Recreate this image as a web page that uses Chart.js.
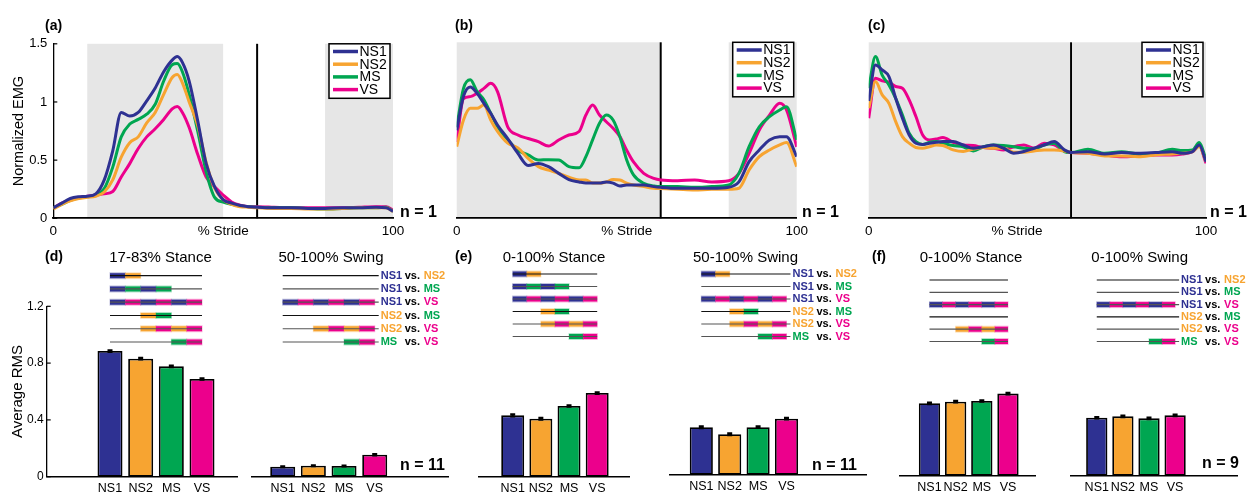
<!DOCTYPE html>
<html>
<head>
<meta charset="utf-8">
<script src="https://cdn.jsdelivr.net/npm/chart.js@4.4.1/dist/chart.umd.min.js"></script>
<style>
  body { margin: 0; background: #fff; }
  #fig { position: relative; width: 1249px; height: 493px; overflow: hidden; background: #fff;
         font-family: "Liberation Sans", Arial, Helvetica, sans-serif; color: #000; }
  #fig canvas { position: absolute; }
  .txt { position: absolute; white-space: nowrap; line-height: 1; }
</style>
</head>
<body>
<div id="fig"></div>
<script>
// ---- data ----
const series = ['NS1', 'NS2', 'MS', 'VS'];
const colors = ['#2e3192', '#f7a431', '#00a651', '#ec008c'];

// (a) stride %, normalized EMG
const aStride = [0, 2.5, 5, 7.5, 10, 12.5, 15, 17.5, 20, 22.5, 25, 27.5, 30, 32.5, 35, 36.5, 38, 40, 42.5, 45, 47.5, 50, 52.5, 55, 57.5, 60, 65, 70, 75, 80, 85, 90, 95, 98, 100];
const aNS1 = [0.09, 0.13, 0.17, 0.185, 0.19, 0.21, 0.33, 0.58, 0.91, 0.88, 0.91, 1.01, 1.12, 1.26, 1.36, 1.39, 1.34, 1.18, 0.84, 0.47, 0.27, 0.16, 0.13, 0.11, 0.10, 0.095, 0.09, 0.09, 0.085, 0.085, 0.09, 0.09, 0.095, 0.09, 0.06];
const aNS2 = [0.08, 0.12, 0.15, 0.17, 0.18, 0.19, 0.226, 0.33, 0.525, 0.65, 0.70, 0.82, 0.91, 1.065, 1.21, 1.236, 1.165, 1.0, 0.80, 0.48, 0.26, 0.16, 0.12, 0.10, 0.095, 0.09, 0.085, 0.085, 0.08, 0.08, 0.085, 0.09, 0.09, 0.09, 0.06];
const aMS = [0.09, 0.12, 0.155, 0.175, 0.185, 0.20, 0.255, 0.44, 0.70, 0.81, 0.85, 0.895, 0.98, 1.18, 1.32, 1.33, 1.26, 1.065, 0.75, 0.40, 0.18, 0.14, 0.12, 0.105, 0.10, 0.095, 0.09, 0.09, 0.085, 0.08, 0.085, 0.09, 0.09, 0.095, 0.06];
const aVS = [0.09, 0.13, 0.16, 0.18, 0.19, 0.20, 0.21, 0.23, 0.355, 0.47, 0.60, 0.70, 0.77, 0.85, 0.94, 0.96, 0.91, 0.78, 0.55, 0.355, 0.27, 0.20, 0.14, 0.113, 0.10, 0.10, 0.095, 0.09, 0.09, 0.09, 0.09, 0.095, 0.10, 0.10, 0.07];

// (b)
const bStride = [0, 2, 4, 6, 8, 10, 12, 15, 18, 21, 24, 27, 30, 33, 36, 38, 40, 42, 44, 46, 48, 50, 52, 55, 58, 60, 65, 70, 75, 80, 83, 86, 89, 92, 95, 97, 100];
const bNS1 = [0.75, 1.04, 1.12, 1.065, 0.98, 0.895, 0.795, 0.68, 0.553, 0.45, 0.468, 0.44, 0.383, 0.33, 0.31, 0.30, 0.30, 0.30, 0.31, 0.30, 0.275, 0.284, 0.284, 0.284, 0.27, 0.264, 0.256, 0.256, 0.256, 0.264, 0.31, 0.483, 0.582, 0.668, 0.696, 0.696, 0.526];
const bNS2 = [0.61, 0.838, 0.937, 0.937, 0.965, 0.838, 0.74, 0.64, 0.60, 0.51, 0.44, 0.41, 0.383, 0.35, 0.326, 0.326, 0.30, 0.30, 0.31, 0.33, 0.326, 0.30, 0.284, 0.27, 0.256, 0.253, 0.247, 0.241, 0.247, 0.247, 0.256, 0.412, 0.526, 0.582, 0.625, 0.645, 0.44];
const bMS = [0.776, 1.107, 1.18, 1.08, 1.01, 0.895, 0.78, 0.67, 0.58, 0.54, 0.497, 0.50, 0.497, 0.44, 0.43, 0.525, 0.67, 0.81, 0.88, 0.838, 0.696, 0.497, 0.37, 0.298, 0.275, 0.27, 0.27, 0.265, 0.27, 0.284, 0.383, 0.61, 0.78, 0.866, 0.923, 0.95, 0.668];
const bVS = [0.65, 1.02, 1.037, 1.065, 1.107, 1.15, 1.08, 0.78, 0.71, 0.68, 0.653, 0.616, 0.667, 0.71, 0.74, 0.88, 0.965, 0.88, 0.823, 0.767, 0.696, 0.58, 0.48, 0.383, 0.34, 0.327, 0.32, 0.327, 0.31, 0.32, 0.383, 0.554, 0.753, 0.88, 0.98, 0.923, 0.61];

// (c)
const cStride = [0, 2, 4, 6, 8, 10, 12, 14, 16, 18, 20, 22, 25, 28, 31, 34, 37, 40, 43, 46, 49, 52, 55, 58, 60, 65, 70, 75, 80, 85, 90, 93, 96, 98, 100];
const cNS1 = [1.0, 1.307, 1.265, 1.208, 1.023, 0.853, 0.71, 0.64, 0.63, 0.64, 0.648, 0.654, 0.654, 0.625, 0.597, 0.61, 0.625, 0.597, 0.555, 0.569, 0.597, 0.625, 0.654, 0.583, 0.56, 0.568, 0.548, 0.56, 0.554, 0.56, 0.568, 0.554, 0.568, 0.625, 0.483];
const cNS2 = [0.938, 1.165, 1.052, 0.98, 0.824, 0.696, 0.64, 0.603, 0.597, 0.61, 0.625, 0.62, 0.583, 0.569, 0.59, 0.603, 0.597, 0.597, 0.563, 0.563, 0.574, 0.583, 0.583, 0.574, 0.56, 0.554, 0.531, 0.531, 0.525, 0.54, 0.548, 0.554, 0.568, 0.611, 0.483];
const cMS = [1.108, 1.378, 1.22, 1.137, 1.023, 0.88, 0.725, 0.654, 0.63, 0.648, 0.654, 0.64, 0.62, 0.61, 0.574, 0.61, 0.625, 0.62, 0.61, 0.597, 0.59, 0.625, 0.64, 0.569, 0.56, 0.588, 0.554, 0.568, 0.548, 0.554, 0.588, 0.577, 0.582, 0.645, 0.50];
const cVS = [0.853, 1.194, 1.171, 1.16, 1.123, 1.108, 1.009, 0.867, 0.71, 0.668, 0.676, 0.688, 0.648, 0.625, 0.62, 0.603, 0.597, 0.583, 0.61, 0.625, 0.597, 0.64, 0.625, 0.574, 0.56, 0.554, 0.54, 0.525, 0.531, 0.54, 0.54, 0.548, 0.568, 0.616, 0.469];

// grey phase bands and stance/swing split (% stride)
const aGrey = [[10, 50], [80, 100]];
const bGrey = [[0, 60], [80, 100]];
const cGrey = [[0, 60], [60.5, 100]];
const phaseSplit = 60;
const aStrideTicks = [0, 50, 100];
const bStrideTicks = [0, 50, 100];
const cStrideTicks = [0, 44, 100];

// average RMS bars
const dStanceRms = [0.885, 0.831, 0.777, 0.688];
const dStanceErr = [0.006, 0.006, 0.006, 0.006];
const dSwingRms = [0.07, 0.077, 0.075, 0.155];
const dSwingErr = [0.004, 0.004, 0.004, 0.005];
const eStanceRms = [0.432, 0.408, 0.498, 0.589];
const eStanceErr = [0.008, 0.007, 0.006, 0.006];
const eSwingRms = [0.335, 0.285, 0.335, 0.395];
const eSwingErr = [0.007, 0.007, 0.006, 0.006];
const fStanceRms = [0.51, 0.521, 0.526, 0.578];
const fStanceErr = [0.006, 0.006, 0.006, 0.006];
const fSwingRms = [0.408, 0.418, 0.404, 0.425];
const fSwingErr = [0.006, 0.006, 0.006, 0.006];

// pairwise comparisons: which sixths of the span are significant [from, to)
const sigPairs = [[0, 1], [0, 2], [0, 3], [1, 2], [1, 3], [2, 3]];
const dStanceSig = [[0, 2], [0, 4], [0, 6], [2, 4], [2, 6], [4, 6]];
const dSwingSig = [null, null, [0, 6], null, [2, 6], [4, 6]];
const eStanceSig = [[0, 2], [0, 4], [0, 6], [2, 4], [2, 6], [4, 6]];
const eSwingSig = [[0, 2], null, [0, 6], [2, 4], [2, 6], [4, 6]];
const fStanceSig = [null, null, [0, 6], null, [2, 6], [4, 6]];
const fSwingSig = [null, null, [0, 6], null, null, [4, 6]];

// ---- drawing ----
const FONT = '"Liberation Sans", Arial, Helvetica, sans-serif';
Chart.defaults.font.family = FONT;
Chart.defaults.color = '#000';
const fig = document.getElementById('fig');

function makeCanvas(left, top, w, h) {
    const cv = document.createElement('canvas');
    cv.width = w; cv.height = h;
    cv.style.left = left + 'px'; cv.style.top = top + 'px';
    cv.style.width = w + 'px'; cv.style.height = h + 'px';
    fig.appendChild(cv);
    return cv;
}

function addText(str, x, y, size, bold, anchor) {
    const d = document.createElement('div');
    d.className = 'txt';
    d.textContent = str;
    d.style.left = x + 'px'; d.style.top = y + 'px';
    d.style.fontSize = size + 'px';
    d.style.fontWeight = bold ? 'bold' : 'normal';
    d.style.transform = anchor === 'c' ? 'translate(-50%,-50%)' : 'translate(0,-50%)';
    fig.appendChild(d);
}

const phasePlugin = {
    id: 'phases',
    beforeDraw(chart, args, opts) {
        const a = chart.chartArea, x = chart.scales.x, ctx = chart.ctx;
        ctx.save();
        ctx.fillStyle = '#e6e6e6';
        opts.bands.forEach(b => {
            const l = x.getPixelForValue(b[0]), r = x.getPixelForValue(b[1]);
            ctx.fillRect(l, a.top, r - l, a.bottom - a.top);
        });
        const s = x.getPixelForValue(opts.split);
        ctx.strokeStyle = '#000'; ctx.lineWidth = 2;
        ctx.beginPath(); ctx.moveTo(s, a.top); ctx.lineTo(s, a.bottom); ctx.stroke();
        ctx.restore();
    }
};

const boxLegend = {
    id: 'boxLegend',
    afterDraw(chart) {
        const a = chart.chartArea, ctx = chart.ctx;
        const w = 61, h = 54.5, left = a.right - 3 - w, top = a.top;
        ctx.save();
        ctx.fillStyle = '#fff'; ctx.fillRect(left, top, w, h);
        ctx.strokeStyle = '#000'; ctx.lineWidth = 1.5; ctx.strokeRect(left, top, w, h);
        ctx.font = '14px ' + FONT; ctx.textBaseline = 'middle';
        chart.data.datasets.forEach((ds, i) => {
            const yy = top + 7.7 + i * 12.7;
            ctx.strokeStyle = ds.borderColor; ctx.lineWidth = 3.5;
            ctx.beginPath(); ctx.moveTo(left + 4, yy); ctx.lineTo(left + 29, yy); ctx.stroke();
            ctx.fillStyle = '#000'; ctx.fillText(ds.label, left + 30.5, yy + 0.5);
        });
        ctx.restore();
    }
};

// MATLAB style inward ticks on the y axis
const inTicks = {
    id: 'inTicks',
    afterDraw(chart) {
        const y = chart.scales.y;
        if (!y.options.display) return;
        const ctx = chart.ctx, x0 = chart.chartArea.left;
        ctx.save(); ctx.strokeStyle = '#000'; ctx.lineWidth = 1.2;
        y.ticks.forEach(t => {
            const p = y.getPixelForValue(t.value);
            ctx.beginPath(); ctx.moveTo(x0, p); ctx.lineTo(x0 + 4, p); ctx.stroke();
        });
        ctx.restore();
    }
};

const errBars = {
    id: 'errBars',
    afterDatasetsDraw(chart, args, opts) {
        const meta = chart.getDatasetMeta(0), y = chart.scales.y, ctx = chart.ctx;
        const vals = chart.data.datasets[0].data;
        ctx.save(); ctx.strokeStyle = '#000'; ctx.lineWidth = 2;
        meta.data.forEach((bar, i) => {
            const v = vals[i].y, e = opts.err[i];
            const top = y.getPixelForValue(v + e), bot = y.getPixelForValue(v - e);
            ctx.beginPath();
            ctx.moveTo(bar.x, top - 1); ctx.lineTo(bar.x, bot + 1);
            ctx.moveTo(bar.x - 2.5, top); ctx.lineTo(bar.x + 2.5, top);
            ctx.moveTo(bar.x - 2.5, bot); ctx.lineTo(bar.x + 2.5, bot);
            ctx.stroke();
        });
        ctx.restore();
    }
};

const sigRows = {
    id: 'sigRows',
    afterDraw(chart, args, opts) {
        const x = chart.scales.x, ctx = chart.ctx;
        const x0 = x.getPixelForValue(1), x1 = x.getPixelForValue(4);
        ctx.save();
        opts.rows.forEach((row, r) => {
            const yy = opts.top + r * opts.gap;
            const pair = sigPairs[r];
            if (row) {
                for (let k = row[0]; k < row[1]; k++) {
                    const a = x.getPixelForValue(1 + k * 0.5), b = x.getPixelForValue(1.5 + k * 0.5);
                    ctx.fillStyle = colors[pair[(k - row[0]) % 2]];
                    ctx.globalAlpha = 0.3; ctx.fillRect(a - 0.5, yy - 3.5, b - a + 1, 7);
                    ctx.globalAlpha = 1; ctx.fillRect(a, yy - 2.5, b - a, 5);
                }
            }
            ctx.strokeStyle = r % 3 === 0 ? '#111' : '#555';
            ctx.lineWidth = 1.2;
            ctx.beginPath(); ctx.moveTo(x0, yy); ctx.lineTo(x1 + (opts.labels ? 4 : 0), yy); ctx.stroke();
            if (opts.labels) {
                const lx = x1 + 6;
                ctx.font = 'bold 11px ' + FONT; ctx.textBaseline = 'middle';
                ctx.fillStyle = colors[pair[0]]; ctx.fillText(series[pair[0]], lx, yy);
                ctx.fillStyle = '#000'; ctx.fillText('vs.', lx + 24, yy);
                ctx.fillStyle = colors[pair[1]]; ctx.fillText(series[pair[1]], lx + 43, yy);
            }
        });
        ctx.restore();
    }
};

function linePanel(cfg) {
    const cv = makeCanvas(cfg.left, 30, cfg.width, 220);
    new Chart(cv, {
        type: 'line',
        data: {
            datasets: series.map((name, k) => ({
                label: name,
                data: cfg.xs.map((x, i) => ({ x: x, y: cfg.vals[k][i] })),
                borderColor: colors[k],
                borderWidth: 3,
                pointRadius: 0,
                cubicInterpolationMode: 'monotone',
                fill: false
            }))
        },
        options: {
            responsive: false, animation: false, devicePixelRatio: 1,
            layout: { padding: { left: cfg.padL, right: cfg.padR, top: 12.3, bottom: 0 } },
            plugins: {
                legend: { display: false }, tooltip: { enabled: false },
                phases: { bands: cfg.bands, split: phaseSplit }
            },
            scales: {
                x: {
                    type: 'linear', min: 0, max: 100,
                    grid: { display: false, drawTicks: false },
                    border: { display: true, color: '#000', width: 1.8 },
                    afterBuildTicks: s => { s.ticks = cfg.xTicks.map(v => ({ value: v })); },
                    afterFit: s => { s.height = 31.7; },
                    ticks: {
                        padding: 5, autoSkip: false, maxRotation: 0, font: { size: 13.5 },
                        callback: v => (v === 0 || v === 100) ? String(v) : '% Stride'
                    }
                },
                y: {
                    min: 0, max: 1.5, display: cfg.showY,
                    grid: { display: false, drawTicks: false },
                    border: { display: true, color: '#000', width: 1.3 },
                    afterFit: s => { s.width = cfg.showY ? 53.3 : 0; },
                    ticks: { stepSize: 0.5, padding: 6, font: { size: 13 },
                             callback: v => String(+v.toFixed(2)) },
                    title: { display: true, text: 'Normalized EMG', font: { size: 14.5 }, padding: { top: 10, bottom: 0 } }
                }
            }
        },
        plugins: [phasePlugin, boxLegend, inTicks]
    });
}

function barPanel(cfg) {
    const top = 262;
    const h = cfg.base - top + 16.3;
    const cv = makeCanvas(cfg.left, top, cfg.width, h);
    new Chart(cv, {
        type: 'bar',
        data: {
            datasets: [{
                data: cfg.rms.map((v, i) => ({ x: i + 1, y: v })),
                backgroundColor: colors,
                borderColor: '#000',
                borderWidth: 1.8,
                borderSkipped: false,
                barPercentage: 0.815,
                categoryPercentage: 1
            }]
        },
        options: {
            responsive: false, animation: false, devicePixelRatio: 1,
            layout: { padding: { left: cfg.padL, right: cfg.padR, top: cfg.base - 170.4 - top, bottom: 0 } },
            plugins: {
                legend: { display: false }, tooltip: { enabled: false },
                errBars: { err: cfg.err },
                sigRows: { rows: cfg.sig, top: cfg.rowTop, gap: cfg.rowGap, labels: cfg.labels }
            },
            scales: {
                x: {
                    type: 'linear', min: cfg.xMin, max: cfg.xMax, offset: false,
                    grid: { display: false, drawTicks: false },
                    border: { display: true, color: '#000', width: 1.6 },
                    afterBuildTicks: s => { s.ticks = series.map((c, i) => ({ value: i + 1 })); },
                    afterFit: s => { s.height = 16.3; },
                    ticks: { padding: 4, autoSkip: false, maxRotation: 0, font: { size: 12.5 },
                             callback: v => series[v - 1] }
                },
                y: {
                    min: 0, max: 1.2, display: cfg.showY,
                    grid: { display: false, drawTicks: false },
                    border: { display: true, color: '#000', width: 1.3 },
                    afterFit: s => { s.width = cfg.showY ? 46.7 : 0; },
                    ticks: { stepSize: 0.4, padding: 3, font: { size: 12 },
                             callback: v => v === 0 ? '0' : v.toFixed(1) },
                    title: { display: true, text: 'Average RMS', font: { size: 15 }, padding: { top: 9, bottom: 0 } }
                }
            }
        },
        plugins: [errBars, sigRows, inTicks]
    });
}

linePanel({ left: 0, width: 412, padL: 0, padR: 19, showY: true, xs: aStride, vals: [aNS1, aNS2, aMS, aVS], bands: aGrey, xTicks: aStrideTicks });
linePanel({ left: 410, width: 406, padL: 46.7, padR: 19.3, showY: false, xs: bStride, vals: [bNS1, bNS2, bMS, bVS], bands: bGrey, xTicks: bStrideTicks });
linePanel({ left: 820, width: 429, padL: 48.7, padR: 43, showY: false, xs: cStride, vals: [cNS1, cNS2, cMS, cVS], bands: cGrey, xTicks: cStrideTicks });

barPanel({ left: 0, width: 250, padL: 0, padR: 13, base: 476.7, showY: true, xMin: -1.064, xMax: 5.141,
           rms: dStanceRms, err: dStanceErr, sig: dStanceSig, rowTop: 13.7, rowGap: 13.26, labels: false });
barPanel({ left: 245, width: 210, padL: 6.7, padR: 7, base: 476.7, showY: false, xMin: -0.011, xMax: 6.39,
           rms: dSwingRms, err: dSwingErr, sig: dSwingSig, rowTop: 13.7, rowGap: 13.26, labels: true });
barPanel({ left: 470, width: 170, padL: 8.3, padR: 10.7, base: 476.7, showY: false, xMin: -0.221, xMax: 5.14,
           rms: eStanceRms, err: eStanceErr, sig: eStanceSig, rowTop: 12, rowGap: 12.5, labels: false });
barPanel({ left: 660, width: 210, padL: 9.3, padR: 4, base: 475, showY: false, xMin: -0.127, xMax: 6.8,
           rms: eSwingRms, err: eSwingErr, sig: eSwingSig, rowTop: 12, rowGap: 12.5, labels: true });
barPanel({ left: 890, width: 160, padL: 10, padR: 14.3, base: 475.7, showY: false, xMin: -0.127, xMax: 5.06,
           rms: fStanceRms, err: fStanceErr, sig: fStanceSig, rowTop: 18, rowGap: 12.3, labels: false });
barPanel({ left: 1060, width: 189, padL: 11, padR: 12, base: 475.7, showY: false, xMin: 0.013, xMax: 6.37,
           rms: fSwingRms, err: fSwingErr, sig: fSwingSig, rowTop: 18, rowGap: 12.3, labels: true });

// panel letters, headings, sample sizes
addText('(a)', 45, 25, 14, true, 'l');
addText('(b)', 455, 25, 14, true, 'l');
addText('(c)', 868, 25, 14, true, 'l');
addText('n = 1', 400, 212, 16, true, 'l');
addText('n = 1', 802, 212, 16, true, 'l');
addText('n = 1', 1210, 212, 16, true, 'l');
addText('(d)', 45, 256, 14, true, 'l');
addText('(e)', 455, 256, 14, true, 'l');
addText('(f)', 872, 256, 14, true, 'l');
addText('17-83% Stance', 160.5, 256, 15, false, 'c');
addText('50-100% Swing', 331, 256, 15, false, 'c');
addText('0-100% Stance', 554, 256, 15, false, 'c');
addText('50-100% Swing', 745.5, 256, 15, false, 'c');
addText('0-100% Stance', 971, 256, 15, false, 'c');
addText('0-100% Swing', 1139.7, 256, 15, false, 'c');
addText('n = 11', 400, 465, 16, true, 'l');
addText('n = 11', 812, 465, 16, true, 'l');
addText('n = 9', 1202, 463, 16, true, 'l');
</script>
</body>
</html>
